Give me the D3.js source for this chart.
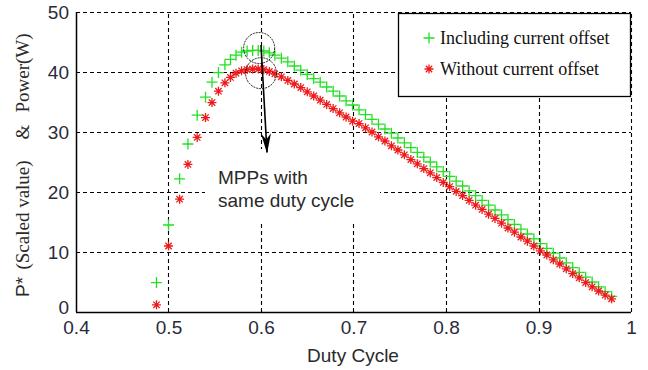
<!DOCTYPE html>
<html>
<head>
<meta charset="utf-8">
<script src="https://cdn.jsdelivr.net/npm/d3@7"></script>
<style>
  html, body { margin: 0; padding: 0; background: #fff; }
  svg { display: block; }
</style>
</head>
<body>
<svg id="chart" width="648" height="370"></svg>
<script>
// Duty cycle sweep shared by both series
const duty = [
  0.487, 0.500, 0.512, 0.521, 0.531, 0.540, 0.547, 0.554, 0.561, 0.567,
  0.573, 0.579, 0.585, 0.591, 0.597, 0.603, 0.609, 0.615, 0.622, 0.629,
  0.636, 0.643, 0.650, 0.657, 0.664, 0.671, 0.678, 0.685, 0.692, 0.699,
  0.706, 0.713, 0.720, 0.727, 0.734, 0.741, 0.748, 0.755, 0.762, 0.769,
  0.776, 0.783, 0.790, 0.797, 0.804, 0.811, 0.818, 0.825, 0.832, 0.839,
  0.846, 0.853, 0.860, 0.867, 0.874, 0.881, 0.888, 0.895, 0.902, 0.909,
  0.916, 0.923, 0.930, 0.937, 0.944, 0.951, 0.958, 0.965, 0.972, 0.979
];

// Power including current offset
const withOffset = [
  4.9, 14.5, 22.2, 28.0, 32.8, 35.8, 38.3, 39.9, 41.2, 42.1,
  42.8, 43.3, 43.5, 43.6, 43.6, 43.5, 43.2, 42.8, 42.3, 41.7,
  41.0, 40.3, 39.6, 38.9, 38.3, 37.5, 36.8, 36.0, 35.2, 34.5,
  33.7, 32.9, 32.1, 31.3, 30.5, 29.8, 29.0, 28.2, 27.4, 26.6,
  25.8, 25.0, 24.2, 23.4, 22.6, 21.8, 21.0, 20.2, 19.4, 18.6,
  17.8, 17.0, 16.2, 15.4, 14.6, 13.8, 13.0, 12.2, 11.4, 10.6,
  9.8, 9.0, 8.2, 7.4, 6.6, 5.8, 5.0, 4.2, 3.4, 2.6
];

// Power without current offset
const withoutOffset = [
  1.2, 11.0, 18.8, 24.6, 29.1, 32.4, 34.9, 36.8, 38.2, 39.1,
  39.8, 40.2, 40.4, 40.5, 40.5, 40.4, 40.1, 39.7, 39.2, 38.6,
  38.0, 37.4, 36.7, 36.0, 35.3, 34.6, 33.9, 33.2, 32.5, 31.8,
  31.4, 30.7, 30.0, 29.2, 28.5, 27.7, 27.0, 26.2, 25.4, 24.7,
  23.9, 23.2, 22.4, 21.6, 20.9, 20.1, 19.4, 18.6, 17.8, 17.1,
  16.3, 15.6, 14.8, 14.0, 13.3, 12.5, 11.8, 11.0, 10.2, 9.5,
  8.7, 8.0, 7.2, 6.4, 5.7, 4.9, 4.2, 3.5, 2.8, 2.2
];

const xTicks = [0.4, 0.5, 0.6, 0.7, 0.8, 0.9, 1];
const xTickLabels = ["0.4", "0.5", "0.6", "0.7", "0.8", "0.9", "1"];
const yTicks = [0, 10, 20, 30, 40, 50];

const seriesNames = ["Including current offset", "Without current offset"];
const seriesColors = ["#22e022", "#ee1a1a"];

// Maximum power points that are circled
const mppDuty = [0.598, 0.600];
const mppPower = [44.0, 39.8];

const SANS = "Arial, 'Liberation Sans', sans-serif";
const SERIF = "'Liberation Serif', 'Times New Roman', serif";

const svg = d3.select("#chart");

const x = d3.scaleLinear().domain([0.4, 1]).range([76, 631]);
const y = d3.scaleLinear().domain([0, 50]).range([312, 12]);

// Dashed grid
const grid = svg.append("g").attr("stroke", "#000").attr("stroke-width", 1.1)
  .attr("stroke-dasharray", "4,3").attr("fill", "none");
grid.selectAll("line.v").data(xTicks.slice(1)).join("line")
  .attr("class", "v")
  .attr("x1", d => Math.round(x(d)) + 0.5).attr("x2", d => Math.round(x(d)) + 0.5)
  .attr("y1", y(0)).attr("y2", y(50));
grid.selectAll("line.h").data(yTicks.slice(1)).join("line")
  .attr("class", "h")
  .attr("y1", d => Math.round(y(d)) + 0.5).attr("y2", d => Math.round(y(d)) + 0.5)
  .attr("x1", x(0.4)).attr("x2", x(1));

// Label backdrop for the annotation text
svg.append("rect")
  .attr("x", 205).attr("y", 149).attr("width", 175).attr("height", 72)
  .attr("fill", "#fff");

// Solid left and bottom axis lines
svg.append("line").attr("x1", x(0.4)).attr("x2", x(1))
  .attr("y1", y(0) + 0.5).attr("y2", y(0) + 0.5)
  .attr("stroke", "#000").attr("stroke-width", 1.5);
svg.append("line").attr("x1", x(0.4) + 0.5).attr("x2", x(0.4) + 0.5)
  .attr("y1", y(0)).attr("y2", y(50))
  .attr("stroke", "#000").attr("stroke-width", 1.5);

// Tick labels
const xAxis = svg.append("g").attr("transform", `translate(0,${y(0)})`)
  .call(d3.axisBottom(x).tickValues(xTicks).tickSize(0).tickPadding(9)
    .tickFormat((d, i) => xTickLabels[i]));
xAxis.select(".domain").remove();
xAxis.selectAll("text").style("font-family", SANS)
  .attr("font-size", 19).attr("fill", "#2a2a3a");

const yAxis = svg.append("g").attr("transform", `translate(${x(0.4)},0)`)
  .call(d3.axisLeft(y).tickValues(yTicks).tickSize(0).tickPadding(7));
yAxis.select(".domain").remove();
yAxis.selectAll("text").style("font-family", SANS)
  .attr("font-size", 19).attr("fill", "#2a2a3a");
yAxis.selectAll(".tick").filter(d => d === 0).select("text").attr("dy", "0.08em");

// Axis titles
svg.append("text").attr("x", 353).attr("y", 362).attr("text-anchor", "middle")
  .style("font-family", SANS).attr("font-size", 19)
  .attr("fill", "#2a2a2a").text("Duty Cycle");

// Vertical title in pieces: P* (sans) followed by serif words
const yTitleParts = [
  { text: "P*", center: 287, font: SANS },
  { text: "(Scaled value)", center: 215, font: SERIF },
  { text: "&", center: 132, font: SERIF },
  { text: "Power(W)", center: 73, font: SERIF }
];
svg.append("g").selectAll("text").data(yTitleParts).join("text")
  .attr("transform", d => `translate(29,${d.center}) rotate(-90)`)
  .attr("text-anchor", "middle").attr("font-size", 19).attr("fill", "#2a2a2a")
  .style("font-family", d => d.font)
  .text(d => d.text);

// Marker shapes
const plusPath = "M-5.5,0H5.5M0,-5.5V5.5";
const starPath = "M-4.5,0H4.5M0,-4.5V4.5M-3.2,-3.2L3.2,3.2M-3.2,3.2L3.2,-3.2";

const series = [withOffset, withoutOffset];
const shapes = [plusPath, starPath];

series.forEach((vals, s) => {
  svg.append("g").selectAll("path").data(duty.map((d, i) => [d, vals[i]])).join("path")
    .attr("transform", d => `translate(${x(d[0])},${y(d[1])})`)
    .attr("d", shapes[s]).attr("fill", "none")
    .attr("stroke", seriesColors[s]).attr("stroke-width", 1.3);
});

// Annotation: circled MPPs and arrow
svg.append("g").selectAll("circle").data(mppDuty.map((d, i) => [d, mppPower[i]])).join("circle")
  .attr("cx", d => x(d[0])).attr("cy", d => y(d[1])).attr("r", 15.5)
  .attr("fill", "none").attr("stroke", "#000").attr("stroke-width", 0.9)
  .attr("stroke-dasharray", "2,1");

svg.append("defs").append("marker").attr("id", "arrowhead")
  .attr("viewBox", "0 0 20 10").attr("refX", 19).attr("refY", 5)
  .attr("markerWidth", 20).attr("markerHeight", 10).attr("markerUnits", "userSpaceOnUse")
  .attr("orient", "auto")
  .append("path").attr("d", "M0,0L6,5L0,10L20,5Z").attr("fill", "#000");

svg.append("line")
  .attr("x1", x(0.6)).attr("y1", y(44.5))
  .attr("x2", x(0.6065)).attr("y2", y(26.6))
  .attr("stroke", "#000").attr("stroke-width", 1.6)
  .attr("marker-end", "url(#arrowhead)");

svg.append("text").style("font-family", SANS)
  .attr("font-size", 19).attr("fill", "#2a2a2a")
  .selectAll("tspan").data(["MPPs with", "same duty cycle"]).join("tspan")
  .attr("x", 218).attr("y", (d, i) => 184 + i * 23).text(d => d);

// Legend
const legend = svg.append("g");
legend.append("rect").attr("x", 398.5).attr("y", 13.5).attr("width", 232).attr("height", 83)
  .attr("fill", "#fff").attr("stroke", "#000").attr("stroke-width", 1.3);
seriesNames.forEach((name, i) => {
  legend.append("path").attr("transform", `translate(429,${38 + i * 31})`)
    .attr("d", shapes[i]).attr("fill", "none")
    .attr("stroke", seriesColors[i]).attr("stroke-width", 1.3);
  legend.append("text").attr("x", 440).attr("y", 44 + i * 31)
    .style("font-family", SERIF)
    .attr("font-size", 18).attr("fill", "#111").text(name);
});
</script>
</body>
</html>
